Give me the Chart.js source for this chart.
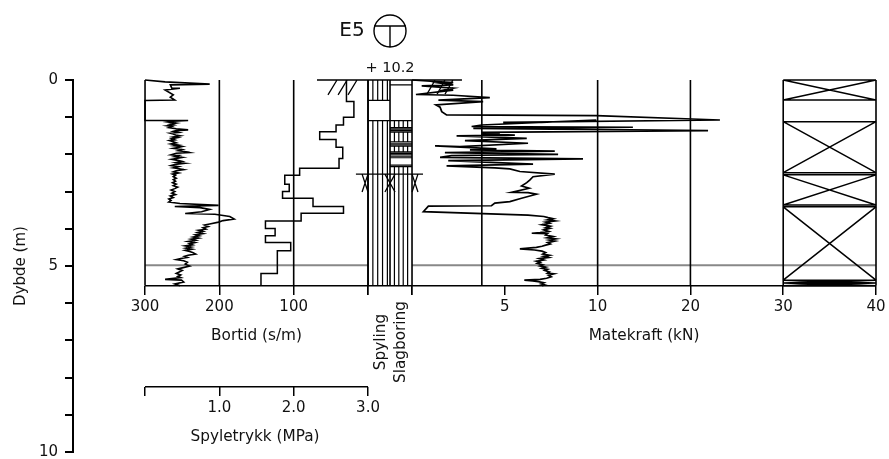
<!DOCTYPE html>
<html>
<head>
<meta charset="utf-8">
<title>E5</title>
<script src="https://cdn.jsdelivr.net/npm/chart.js@4"></script>
<style>
  html, body { margin: 0; padding: 0; background: #ffffff; }
  canvas { display: block; }
</style>
</head>
<body>
<canvas id="sondering" width="889" height="459"></canvas>
<script>
// Bortid (s/m) mot dybde (m)
const bortidDepth = [0, .05, .11, .13, .22, .22, .27, .40, .46, .54, .55, 1.09,
  1.09, 1.11, 1.13, 1.16, 1.19, 1.21, 1.23, 1.25, 1.28, 1.31, 1.34, 1.36, 1.38, 1.41, 1.43, 1.45, 1.48, 1.50, 1.53, 1.55, 1.58, 1.61, 1.63, 1.66, 1.69, 1.72, 1.75, 1.77, 1.79, 1.81, 1.84, 1.87, 1.90, 1.92, 1.95, 1.97, 2.01, 2.03, 2.06, 2.08, 2.11, 2.13, 2.16, 2.19, 2.22, 2.24, 2.27, 2.30, 2.33, 2.36, 2.38, 2.41, 2.44, 2.47, 2.50, 2.53, 2.56, 2.60, 2.64, 2.68, 2.72, 2.76, 2.80, 2.84, 2.88, 2.92, 2.96, 3.00, 3.04, 3.08, 3.12, 3.16, 3.20, 3.24, 3.28,
  3.32, 3.37, 3.40, 3.43, 3.48, 3.54, 3.59, 3.61, 3.67, 3.74, 3.78, 3.82,
  3.87, 3.90, 3.94, 3.97, 4.01, 4.04, 4.07, 4.10, 4.13, 4.16, 4.19, 4.22, 4.25, 4.28, 4.31, 4.34, 4.37, 4.40, 4.43, 4.46, 4.49, 4.52, 4.55, 4.58, 4.61, 4.64, 4.68, 4.71, 4.74, 4.77, 4.80, 4.83, 4.86, 4.90, 4.95, 5.00, 5.05, 5.08, 5.12, 5.16, 5.20, 5.24, 5.28, 5.31, 5.36, 5.38, 5.43, 5.48, 5.53];
const bortidValues = [300, 273, 213, 266, 264, 253, 273, 262, 266, 260, 300, 300,
  242, 262, 269, 258, 266, 262, 270, 264, 268, 258, 242, 258, 262, 255, 266, 262, 259, 253, 262, 256, 264, 260, 267, 262, 258, 265, 255, 260, 250, 254, 262, 250, 255, 247, 240, 258, 265, 255, 260, 250, 258, 264, 256, 250, 258, 247, 260, 265, 255, 262, 256, 248, 258, 262, 255, 263, 259, 262, 258, 262, 259, 263, 258, 262, 256, 260, 265, 260, 264, 259, 266, 262, 268, 265, 268,
  253, 201, 260, 226, 213, 224, 246, 206, 186, 180, 195, 201,
  213, 220, 215, 222, 218, 228, 222, 229, 222, 232, 227, 235, 228, 238, 232, 242, 233, 240, 236, 246, 238, 245, 237, 246, 240, 236, 232, 242, 247, 243, 252, 258, 248, 243, 246, 240, 250, 256, 250, 254, 258, 252, 256, 252, 273, 251, 248, 260, 253];

// Spyletrykk (MPa), trapper: verdi gjelder mellom to dybder
const trykkDepth = [0, .58, 1.00, 1.21, 1.39, 1.60, 1.81, 2.11, 2.37, 2.56, 2.80, 3.00, 3.18, 3.40, 3.58, 3.79, 3.99, 4.19, 4.37, 4.59, 5.20, 5.53];
const trykkValues = [2.71, 2.81, 2.67, 2.57, 2.35, 2.57, 2.66, 2.61, 2.08, 1.88, 1.94, 1.85, 2.26, 2.67, 2.10, 1.62, 1.75, 1.62, 1.96, 1.78, 1.56];

// Matekraft (kN) mot dybde (m)
const kraftDepth = [0, .07, .05, .13, .16, .22, .29, .27, .39, .41, .475, .54, .58, .67, .73, .85, .94, .96, 1.075, 1.14, 1.14, 1.075, 1.21, 1.25, 1.27, 1.30, 1.36, 1.41, 1.43, 1.45, 1.48, 1.50, 1.57, 1.63, 1.70, 1.79, 1.77, 1.85, 1.88, 1.91, 1.95, 2.00, 2.03, 2.08, 2.12, 2.17, 2.26, 2.31, 2.36, 2.39, 2.46, 2.53, 2.60, 2.69, 2.76, 2.85, 2.91, 3.02, 3.03, 3.07, 3.18, 3.27, 3.31, 3.38, 3.39, 3.54,
  3.63, 3.67, 3.70, 3.73, 3.76, 3.79, 3.82, 3.85, 3.89, 3.93, 3.97, 3.99, 4.03, 4.07, 4.10, 4.12, 4.13, 4.17, 4.21, 4.24, 4.27, 4.30, 4.33, 4.37, 4.41, 4.44, 4.47, 4.50, 4.54, 4.57, 4.60, 4.64, 4.68, 4.71, 4.74, 4.77, 4.80, 4.84, 4.87, 4.90, 4.93, 4.97, 5.00, 5.03, 5.06, 5.09, 5.12, 5.16, 5.19, 5.21, 5.25, 5.29, 5.33, 5.36, 5.38, 5.40, 5.42, 5.45, 5.48, 5.51, 5.53];
const kraftValues = [0, 2.22, 1.06, 2.22, .52, 2.22, 1.51, 2.22, .21, 2.22, 4.19, 1.42, 3.83, 1.29, 1.51, 1.60, 1.86, 9.93, 23.18, 4.91, 6.97, 9.93, 3.75, 3.21, 13.8, 3.30, 21.9, 3.75, 4.73, 3.75, 5.54, 2.40, 6.18, 2.85, 6.25, 2.58, 1.24, 4.55, 3.12, 7.69, 1.77, 7.87, 2.13, 1.51, 9.21, 1.95, 6.52, 1.86, 4.46, 5.27, 5.81, 7.69, 6.52, 6.34, 6.18, 5.90, 6.31, 5.36, 6.25, 6.70, 5.90, 5.27, 4.46, 4.28, .88, .61,
  6.25, 7.1, 7.33, 7.6, 7.3, 7.7, 7.2, 7.4, 7.0, 7.45, 7.2, 7.42, 7.1, 7.35, 6.9, 6.45, 7.3, 7.2, 7.6, 7.3, 7.75, 7.4, 7.7, 7.3, 7.45, 7.2, 7.0, 6.7, 5.81, 6.6, 7.0, 7.2, 7.05, 7.4, 7.1, 7.35, 6.85, 7.1, 6.7, 6.9, 6.75, 7.05, 6.9, 7.2, 7.0, 7.3, 7.15, 7.4, 7.3, 7.65, 7.35, 7.5, 7.25, 6.9, 6.05, 6.5, 6.8, 7.1, 6.95, 7.15, 7.0];

// Spyling og slagboring, kolonne 0-1 og 1-2
const spylingFra = [0, 1.09];
const spylingTil = [.55, 5.53];
const spylingLinjer = [.22, .44, .66, .88];
const slagFra = [1.09, 1.41, 1.79, 2.33];
const slagTil = [1.28, 1.66, 1.93, 5.53];
const slagLinjer = [1.2, 1.4, 1.6, 1.8];
const slagBand = [.13, 1.09, 1.28, 1.32, 1.36, 1.40, 1.66, 1.70, 1.74, 1.78, 1.93, 1.97, 2.01, 2.05, 2.09, 2.29, 2.33];

// Kryssfelt helt til høyre (30-40 kN)
const kryssFra = [0, 1.12, 2.55, 3.41, 5.38, 5.46];
const kryssTil = [.54, 2.49, 3.36, 5.38, 5.46, 5.53];

const dybdeTicks = [0, 1, 2, 3, 4, 5, 6, 7, 8, 9, 10];
const bortidTicks = [300, 200, 100, 0];
const trykkTicks = [0, 1, 2, 3];
const kolonneTicks = [0, 2];
const kraftTicks = [0, 5, 10, 20, 30, 40];
const kraftLinjer = [3.76, 10, 20, 30, 40];
const bunn = 5.53;
const gronn = 4.98;
const trykkAkseDybde = 8.245;

// Skalaen knekker ved 10 kN: 10-40 tar halv plass per kN
const knekk = v => v <= 10 ? v : 10 + (v - 10) / 2;
class KnekkScale extends Chart.LinearScale {
  getPixelForValue(value) {
    return this.getPixelForDecimal((knekk(value) - this.min) / (knekk(this.max) - this.min));
  }
}
KnekkScale.id = 'knekk';
KnekkScale.defaults = Chart.LinearScale.defaults;
Chart.register(KnekkScale);

const svart = '#000000';
const pts = (xs, ys) => xs.map((x, i) => ({x: x, y: ys[i]}));

function serie(xAxisID, data, width, color) {
  return {
    xAxisID: xAxisID, yAxisID: 'y', data: data,
    showLine: true, spanGaps: false, clip: false,
    borderColor: color || svart, borderWidth: width || 1,
    pointRadius: 0, tension: 0,
  };
}

// streker med brudd mellom, [x0, y0, x1, y1]
function streker(list) {
  const out = [];
  list.forEach(s => {
    out.push({x: s[0], y: s[1]}, {x: s[2], y: s[3]}, {x: NaN, y: NaN});
  });
  return out;
}

const trapp = [];
trykkValues.forEach((v, i) => {
  trapp.push({x: v, y: trykkDepth[i]}, {x: v, y: trykkDepth[i + 1]});
});

const skravur = [];
spylingFra.forEach((d, i) => spylingLinjer.forEach(x => skravur.push([x, d, x, spylingTil[i]])));
slagFra.forEach((d, i) => slagLinjer.forEach(x => skravur.push([x, d, x, slagTil[i]])));
slagBand.forEach(d => skravur.push([1, d, 2, d]));
[.55, 1.09].forEach(d => skravur.push([0, d, 1, d]));

const kryss = [];
kryssFra.forEach((d, i) => {
  const t = kryssTil[i];
  kryss.push([30, d, 40, d], [30, t, 40, t], [30, d, 40, t], [30, t, 40, d]);
});

// terrenglinje og markeringer i kolonneskala
const markering = [
  [-2.32, 0, 4.27, 0],
  [-1.82, .40, -1.41, 0], [-1.36, .40, -.95, 0], [-.91, .40, -.5, 0],
  [2.68, .38, 3.05, 0], [3.14, .38, 3.5, 0], [3.5, .38, 3.86, 0],
  [-.55, 2.53, 2.5, 2.53],
  [-.27, 2.53, 0, 3.01], [0, 2.53, -.27, 3.01],
  [.77, 2.53, 1.23, 3.01], [1.23, 2.53, .77, 3.01],
  [2, 2.53, 2.27, 3.01], [2.27, 2.53, 2, 3.01],
];

const datasets = [
  serie('xBortid', pts(bortidValues, bortidDepth), 1.6),
  serie('xTrykk', trapp, 1.5),
  serie('xKraft', pts(kraftValues, kraftDepth), 1.7),
  serie('xKolonne', streker(skravur), 1.2),
  serie('xKolonne', streker(markering), 1.3),
  serie('xKraft', streker(kryss), 1.5),
  serie('xBortid', streker(bortidTicks.map(v => [v, 0, v, bunn])), 1.6),
  serie('xKolonne', streker([0, 1, 2].map(v => [v, 0, v, bunn])), 1.6),
  serie('xKraft', streker(kraftLinjer.map(v => [v, 0, v, bunn])), 1.6),
  serie('xBortid', streker([[300, bunn, 0, bunn]]), 1.5),
  serie('xKolonne', streker([[0, bunn, 2, bunn]]), 1.5),
  serie('xKraft', streker([[0, bunn, 40, bunn]]), 1.5),
  serie('xTrykk', streker([[0, trykkAkseDybde, 3, trykkAkseDybde]]), 1.5),
  serie('xBortid', streker([[300, gronn, 0, gronn]]), 2, '#888888'),
  serie('xKraft', streker([[0, gronn, 40, gronn]]), 2, '#888888'),
];

// x-akse som ligger inne i plottet, ved en gitt dybde
function akse(type, min, max, ticks, dybde, label, reverse) {
  return {
    type: type, min: min, max: max, reverse: !!reverse,
    position: {y: dybde},
    afterBuildTicks: scale => { scale.ticks = ticks.map(v => ({value: v})); },
    afterFit: scale => { scale.paddingTop = 0; scale.paddingBottom = 0; scale.paddingLeft = 0; scale.paddingRight = 0; },
    border: {display: false},
    grid: {drawOnChartArea: false, drawTicks: true, tickLength: 9, color: svart, lineWidth: 1.5},
    ticks: {
      autoSkip: false, maxRotation: 0, padding: 3, color: '#111111',
      font: {family: 'DejaVu Sans', size: 15},
      callback: label,
    },
  };
}

// tekst og symbol som ikke hører til en akse
const tekst = {
  id: 'tekst',
  afterDraw(chart) {
    const c = chart.ctx;
    const s = chart.scales;
    const skriv = (txt, x, y, size, rot) => {
      c.save();
      c.translate(x, y);
      if (rot) c.rotate(-Math.PI / 2);
      c.font = size + 'px "DejaVu Sans"';
      c.fillStyle = '#111111';
      c.textAlign = 'center';
      c.textBaseline = 'middle';
      c.fillText(txt, 0, 0);
      c.restore();
    };
    const yTekst = s.y.getPixelForValue(bunn) + 50;
    skriv('Bortid (s/m)', s.xBortid.getPixelForValue(150), yTekst, 15.3);
    skriv('Matekraft (kN)', s.xKraft.getPixelForValue(15), yTekst, 15.3);
    skriv('Spyletrykk (MPa)', s.xTrykk.getPixelForValue(1.48), s.y.getPixelForValue(10) - 15, 15.3);
    skriv('Spyling', s.xKolonne.getPixelForValue(.58), 342, 15.3, true);
    skriv('Slagboring', s.xKolonne.getPixelForValue(1.5), 342, 15.3, true);
    skriv('+ 10.2', s.xKolonne.getPixelForValue(1), 68, 14.5);
    skriv('E5', 352, 31, 20);
    // boringssymbol og siste merke på dybdeaksen
    c.save();
    c.strokeStyle = svart;
    c.lineWidth = 1.4;
    c.beginPath();
    c.arc(390, 31, 16, 0, 2 * Math.PI);
    c.moveTo(374, 26);
    c.lineTo(406, 26);
    c.moveTo(390, 26);
    c.lineTo(390, 47);
    c.stroke();
    c.lineWidth = 2;
    c.beginPath();
    c.moveTo(s.y.left + 65, s.y.getPixelForValue(10));
    c.lineTo(s.y.left + 73, s.y.getPixelForValue(10));
    c.stroke();
    c.restore();
  },
};

new Chart(document.getElementById('sondering'), {
  type: 'scatter',
  data: {datasets: datasets},
  options: {
    responsive: false,
    animation: false,
    layout: {padding: {left: 0, top: 80, right: 13, bottom: 7}},
    plugins: {legend: {display: false}, tooltip: {enabled: false}},
    scales: {
      y: {
        type: 'linear', position: 'left', reverse: true, min: 0, max: 10,
        afterBuildTicks: scale => { scale.ticks = dybdeTicks.map(v => ({value: v})); },
        afterFit: scale => { scale.width = 73; scale.paddingTop = 0; scale.paddingBottom = 0; },
        border: {color: svart, width: 2},
        grid: {drawOnChartArea: false, drawTicks: true, tickLength: 8, color: svart, lineWidth: 2},
        title: {display: true, text: 'Dybde (m)', color: '#111111', padding: {top: 12, bottom: 0},
          font: {family: 'DejaVu Sans', size: 15}},
        ticks: {
          autoSkip: false, padding: 7, color: '#111111',
          font: {family: 'DejaVu Sans', size: 15},
          callback: v => (v % 5 === 0 ? String(v) : ''),
        },
      },
      xBortid: akse('linear', -683.4, 396.9, bortidTicks, bunn, v => (v === 0 ? '' : String(v)), true),
      xTrykk: akse('linear', -.969, 9.834, trykkTicks, trykkAkseDybde, v => (v === 0 ? '' : v.toFixed(1))),
      xKolonne: akse('linear', -13.41, 23.09, kolonneTicks, bunn, () => ''),
      xKraft: akse('knekk', -18.27, 40, kraftTicks, bunn, v => (v === 0 ? '' : String(v))),
    },
  },
  plugins: [tekst],
});
</script>
</body>
</html>
